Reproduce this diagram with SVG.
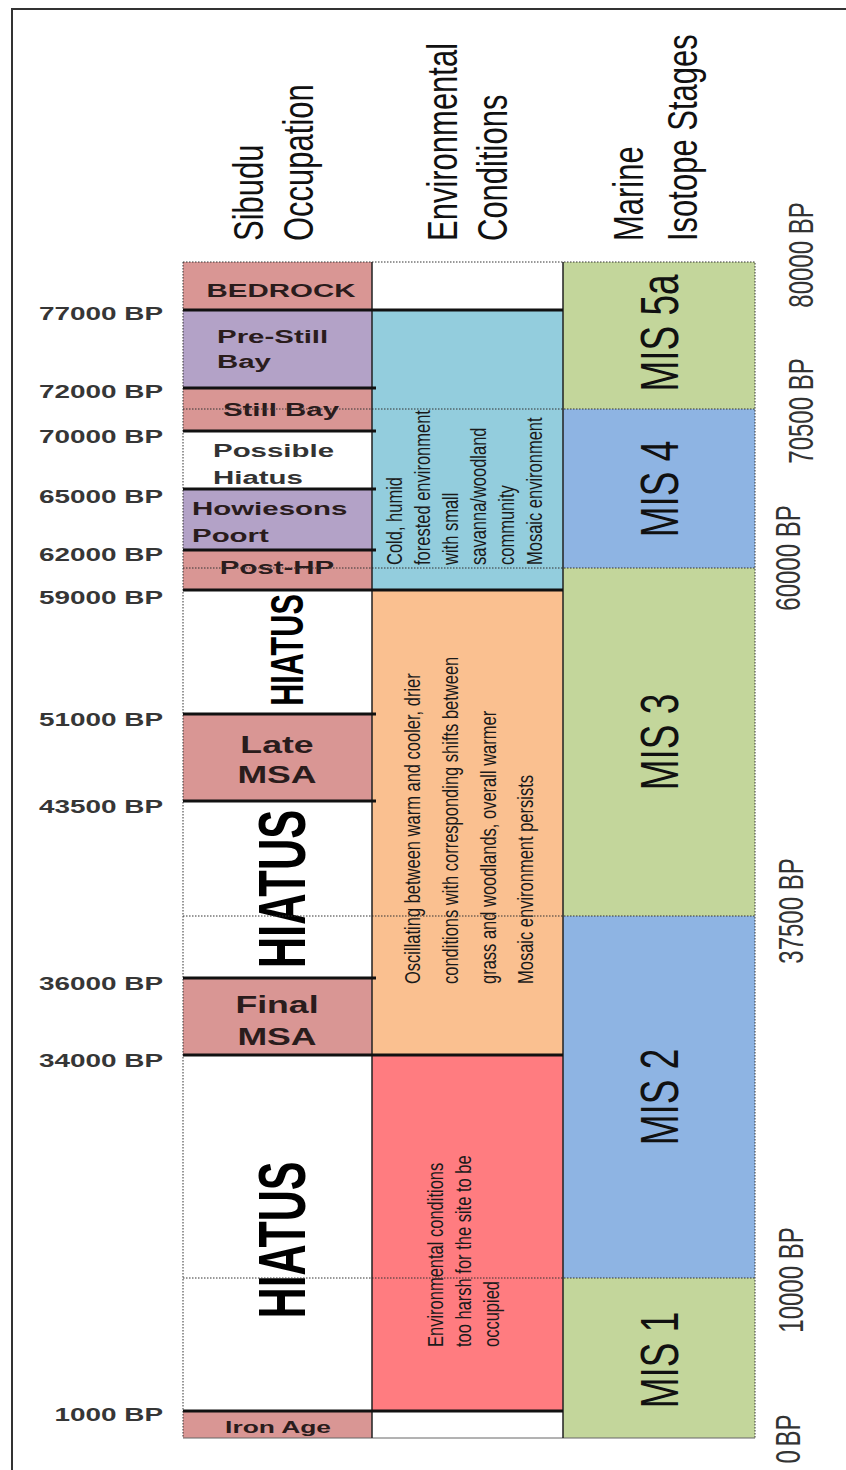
<svg xmlns="http://www.w3.org/2000/svg" width="846" height="1470" viewBox="0 0 846 1470">
<style>
text{font-family:"Liberation Sans",Arial,sans-serif}
.lab{font-weight:bold;font-size:18px;fill:#363636;text-anchor:end}
.box{font-weight:bold;font-size:19px;fill:#2a1c1c}
.big{font-weight:bold;font-size:23px;fill:#2a1c1c;text-anchor:middle}
.hi{font-weight:bold;fill:#000;text-anchor:middle}
.hdr{font-size:31px;fill:#111}
.env{font-size:16.5px;fill:#1a1a1a}
.mis{font-size:37px;fill:#111;text-anchor:middle}
.ax{font-size:24px;fill:#333;text-anchor:middle}
.pink{fill:#D99694}.purp{fill:#B3A2C7}.aqua{fill:#93CDDD}.orng{fill:#FAC090}.red{fill:#FF7C80}.grn{fill:#C3D69B}.blu{fill:#8EB4E3}.wht{fill:#fff}
.thick{stroke:#111;stroke-width:3}
.dot{stroke:#333;stroke-width:1;stroke-dasharray:1.5 1.5;fill:none}
.sep{stroke:#222;stroke-width:1.5}
</style>
<rect width="846" height="1470" fill="#fff"/>
<g id="frame" fill="none" stroke="#333" stroke-width="2">
<path d="M12 1470 V9 H846"/>
</g>
<g id="headers">
<text class="hdr" transform="translate(263,241) scale(1.35,1) rotate(-90)">Sibudu</text>
<text class="hdr" transform="translate(313,241) scale(1.35,1) rotate(-90)">Occupation</text>
<text class="hdr" transform="translate(457,241) scale(1.35,1) rotate(-90)">Environmental</text>
<text class="hdr" transform="translate(507,241) scale(1.35,1) rotate(-90)">Conditions</text>
<text class="hdr" transform="translate(643,241) scale(1.35,1) rotate(-90)">Marine</text>
<text class="hdr" transform="translate(697,241) scale(1.35,1) rotate(-90)">Isotope Stages</text>
</g>
<g id="left-axis">
<text class="lab" transform="translate(163,320) scale(1.55,1)">77000 BP</text>
<text class="lab" transform="translate(163,398) scale(1.55,1)">72000 BP</text>
<text class="lab" transform="translate(163,443) scale(1.55,1)">70000 BP</text>
<text class="lab" transform="translate(163,503) scale(1.55,1)">65000 BP</text>
<text class="lab" transform="translate(163,561) scale(1.55,1)">62000 BP</text>
<text class="lab" transform="translate(163,604) scale(1.55,1)">59000 BP</text>
<text class="lab" transform="translate(163,726) scale(1.55,1)">51000 BP</text>
<text class="lab" transform="translate(163,813) scale(1.55,1)">43500 BP</text>
<text class="lab" transform="translate(163,990) scale(1.55,1)">36000 BP</text>
<text class="lab" transform="translate(163,1067) scale(1.55,1)">34000 BP</text>
<text class="lab" transform="translate(163,1421) scale(1.55,1)">1000 BP</text>
</g>
<g id="occ-bedrock"><rect class="pink" x="183" y="262" width="189" height="48"/><text class="box" text-anchor="middle" transform="translate(281,297) scale(1.55,1)">BEDROCK</text></g>
<g id="occ-prestillbay"><rect class="purp" x="183" y="310" width="189" height="78"/><text class="box" transform="translate(217,343) scale(1.55,1)">Pre-Still</text><text class="box" transform="translate(217,368) scale(1.55,1)">Bay</text></g>
<g id="occ-stillbay"><rect class="pink" x="183" y="388" width="189" height="43"/><text class="box" text-anchor="middle" transform="translate(281,416) scale(1.55,1)">Still Bay</text></g>
<g id="occ-possiblehiatus"><rect class="wht" x="183" y="431" width="189" height="58"/><text class="box" style="fill:#333" transform="translate(213,457) scale(1.55,1)">Possible</text><text class="box" style="fill:#333" transform="translate(213,484) scale(1.55,1)">Hiatus</text></g>
<g id="occ-howiesons"><rect class="purp" x="183" y="489" width="189" height="61"/><text class="box" transform="translate(192,515) scale(1.55,1)">Howiesons</text><text class="box" transform="translate(192,542) scale(1.55,1)">Poort</text></g>
<g id="occ-posthp"><rect class="pink" x="183" y="550" width="189" height="40"/><text class="box" text-anchor="middle" transform="translate(277,574) scale(1.55,1)">Post-HP</text></g>
<g id="occ-hiatus1"><rect class="wht" x="183" y="590" width="189" height="124"/><text class="hi" style="font-size:30.6px" transform="translate(303,650) scale(1.5,1) rotate(-90)">HIATUS</text></g>
<g id="occ-latemsa"><rect class="pink" x="183" y="714" width="189" height="87"/><text class="big" transform="translate(277,753) scale(1.55,1)">Late</text><text class="big" transform="translate(277,783) scale(1.55,1)">MSA</text></g>
<g id="occ-hiatus2"><rect class="wht" x="183" y="801" width="189" height="177"/><text class="hi" style="font-size:43.5px" transform="translate(305,889) scale(1.55,1) rotate(-90)">HIATUS</text></g>
<g id="occ-finalmsa"><rect class="pink" x="183" y="978" width="189" height="77"/><text class="big" transform="translate(277,1013) scale(1.55,1)">Final</text><text class="big" transform="translate(277,1045) scale(1.55,1)">MSA</text></g>
<g id="occ-hiatus3"><rect class="wht" x="183" y="1055" width="189" height="356"/><text class="hi" style="font-size:43px" transform="translate(305,1240) scale(1.56,1) rotate(-90)">HIATUS</text></g>
<g id="occ-ironage"><rect class="pink" x="183" y="1411" width="189" height="27"/><text class="box" text-anchor="middle" style="font-size:17px" transform="translate(278,1433) scale(1.55,1)">Iron Age</text></g>
<g id="env-top"><rect class="wht" x="372" y="262" width="191" height="48"/></g>
<g id="env-cold">
<rect class="aqua" x="372" y="310" width="191" height="280"/>
<text class="env" transform="translate(402,565) scale(1.3,1) rotate(-90)">Cold, humid</text>
<text class="env" transform="translate(430,565) scale(1.3,1) rotate(-90)">forested environment</text>
<text class="env" transform="translate(458,565) scale(1.3,1) rotate(-90)">with small</text>
<text class="env" transform="translate(486,565) scale(1.3,1) rotate(-90)">savanna/woodland</text>
<text class="env" transform="translate(514,565) scale(1.3,1) rotate(-90)">community</text>
<text class="env" transform="translate(542,565) scale(1.3,1) rotate(-90)">Mosaic environment</text>
</g>
<g id="env-oscillating">
<rect class="orng" x="372" y="590" width="191" height="465"/>
<text class="env" transform="translate(420,984) scale(1.3,1) rotate(-90)">Oscillating between warm and cooler, drier</text>
<text class="env" transform="translate(458,984) scale(1.3,1) rotate(-90)">conditions with corresponding shifts between</text>
<text class="env" transform="translate(496,984) scale(1.3,1) rotate(-90)">grass and woodlands, overall warmer</text>
<text class="env" transform="translate(533,984) scale(1.3,1) rotate(-90)">Mosaic environment persists</text>
</g>
<g id="env-harsh">
<rect class="red" x="372" y="1055" width="191" height="356"/>
<text class="env" transform="translate(443,1347) scale(1.3,1) rotate(-90)">Environmental conditions</text>
<text class="env" transform="translate(471,1347) scale(1.3,1) rotate(-90)">too harsh for the site to be</text>
<text class="env" transform="translate(499,1347) scale(1.3,1) rotate(-90)">occupied</text>
</g>
<g id="env-bottom"><rect class="wht" x="372" y="1411" width="191" height="27"/></g>
<g id="mis5a"><rect class="grn" x="563" y="262" width="192" height="147"/><text class="mis" transform="translate(678,333) scale(1.45,1) rotate(-90)">MIS 5a</text></g>
<g id="mis4"><rect class="blu" x="563" y="409" width="192" height="159"/><text class="mis" transform="translate(678,489) scale(1.45,1) rotate(-90)">MIS 4</text></g>
<g id="mis3"><rect class="grn" x="563" y="568" width="192" height="348"/><text class="mis" transform="translate(678,742) scale(1.45,1) rotate(-90)">MIS 3</text></g>
<g id="mis2"><rect class="blu" x="563" y="916" width="192" height="362"/><text class="mis" transform="translate(678,1097) scale(1.45,1) rotate(-90)">MIS 2</text></g>
<g id="mis1"><rect class="grn" x="563" y="1278" width="192" height="160"/><text class="mis" transform="translate(678,1360) scale(1.45,1) rotate(-90)">MIS 1</text></g>
<g id="right-axis">
<text class="ax" transform="translate(813,255) scale(1.5,1) rotate(-90)">80000 BP</text>
<text class="ax" transform="translate(813,411) scale(1.5,1) rotate(-90)">70500 BP</text>
<text class="ax" transform="translate(800,558) scale(1.5,1) rotate(-90)">60000 BP</text>
<text class="ax" transform="translate(803,911) scale(1.5,1) rotate(-90)">37500 BP</text>
<text class="ax" transform="translate(803,1280) scale(1.5,1) rotate(-90)">10000 BP</text>
<text class="ax" style="word-spacing:-3px" transform="translate(800,1439) scale(1.5,1) rotate(-90)">0 BP</text>
</g>
<g id="connectors">
<path class="dot" d="M183 262 H755 V1438 M183 262 V1438"/>
<path class="dot" d="M183 409 H755 M183 568 H755 M183 916 H755 M183 1278 H755"/>
<path d="M183 1438 H755" stroke="#666" stroke-width="1"/>
<path class="sep" d="M372 262 V1438 M563 262 V1438"/>
<path class="thick" d="M183 310 H563 M183 388 H376 M183 431 H376 M183 489 H376 M183 550 H376 M183 590 H563 M183 714 H376 M183 801 H376 M183 978 H376 M183 1055 H563 M183 1411 H563"/>
</g>
</svg>
